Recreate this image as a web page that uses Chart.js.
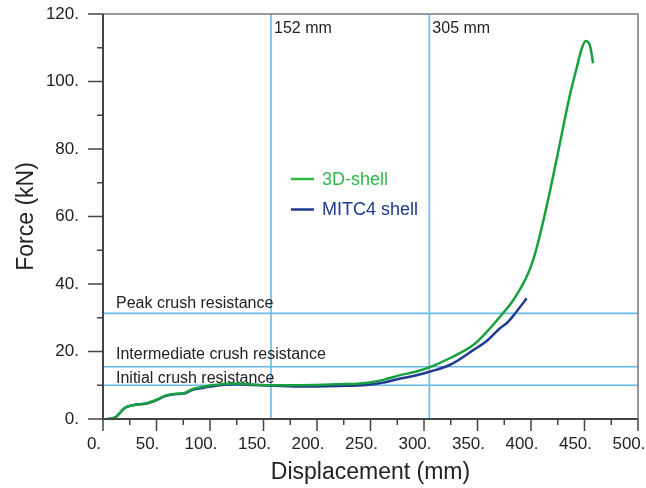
<!DOCTYPE html>
<html lang="en">
<head>
  <meta charset="UTF-8" />
  <title>Force vs Displacement</title>
  <script src="https://cdn.jsdelivr.net/npm/chart.js"></script>
  <style>
    body { margin: 0; background: #fff; }
    #wrap { width: 646px; height: 488px; }
  </style>
</head>
<body>
  <div id="wrap"><canvas id="crushChart" width="646" height="488"></canvas></div>

  <script>
    // 3D-shell curve (displacement mm, force kN)
    const shell3dX = [4, 11, 15, 20, 28, 41, 50, 59, 69, 77, 83, 91, 100, 122, 140, 160, 184, 220, 246, 262, 278, 292, 305, 324, 346, 358, 371, 384, 396, 402, 408, 418, 427, 436, 443, 447, 451, 455, 458];
    const shell3dY = [0, 0.4, 1.5, 3.2, 4.1, 4.7, 5.7, 7.0, 7.5, 7.8, 8.8, 9.4, 9.9, 10.5, 10.2, 10.0, 10.0, 10.3, 10.7, 11.6, 13.0, 14.0, 15.3, 18.0, 21.9, 25.6, 30.3, 35.5, 42.2, 47.1, 54.0, 67.9, 81.7, 95.5, 104.4, 109.3, 112.0, 110.8, 105.4];

    // MITC4 shell curve
    const mitc4X = [4, 11, 15, 20, 28, 41, 50, 59, 69, 77, 83, 91, 100, 122, 140, 153, 184, 220, 246, 262, 278, 292, 305, 324, 346, 360, 371, 378, 384, 396];
    const mitc4Y = [0, 0.4, 1.5, 3.2, 4.1, 4.6, 5.6, 6.9, 7.4, 7.6, 8.6, 9.1, 9.6, 10.3, 10.1, 9.9, 9.6, 9.8, 10.1, 10.8, 12.0, 12.9, 14.0, 16.0, 20.4, 23.5, 26.9, 28.6, 30.8, 35.8];

    // reference lines
    const markerX = [157, 305];
    const markerXLabels = ['152 mm', '305 mm'];
    const levelY = [31.3, 15.5, 10.0];
    const levelLabels = ['Peak crush resistance', 'Intermediate crush resistance', 'Initial crush resistance'];

    const toPoints = (xs, ys) => xs.map((x, i) => ({ x: x, y: ys[i] }));

    const refColor = '#6ab8ec';
    const axisColor = '#444';

    // reference lines under the curves
    const refLines = {
      id: 'refLines',
      beforeDatasetsDraw(chart) {
        const { ctx, chartArea: a, scales: { x, y } } = chart;
        ctx.save();
        ctx.strokeStyle = refColor;
        ctx.lineWidth = 1.6;
        ctx.font = '16px "Liberation Sans", Arial, sans-serif';
        ctx.fillStyle = '#222';
        ctx.textBaseline = 'middle';
        markerX.forEach((v, i) => {
          const px = x.getPixelForValue(v);
          ctx.beginPath();
          ctx.moveTo(px, a.top);
          ctx.lineTo(px, a.bottom);
          ctx.stroke();
          ctx.fillText(markerXLabels[i], px + 3, a.top + 15);
        });
        const offs = [-10, -12, -7];
        levelY.forEach((v, i) => {
          const py = y.getPixelForValue(v);
          ctx.beginPath();
          ctx.moveTo(a.left, py);
          ctx.lineTo(a.right, py);
          ctx.stroke();
          ctx.fillText(levelLabels[i], a.left + 13, py + offs[i]);
        });
        ctx.restore();
      }
    };

    // frame, axes, ticks and in-plot legend
    const frame = {
      id: 'frame',
      afterDraw(chart) {
        const { ctx, chartArea: a, scales: { x, y } } = chart;
        ctx.save();
        ctx.strokeStyle = '#777';
        ctx.lineWidth = 1.5;
        ctx.beginPath();
        ctx.moveTo(a.left, a.top);
        ctx.lineTo(a.right, a.top);
        ctx.lineTo(a.right, a.bottom);
        ctx.stroke();

        ctx.strokeStyle = axisColor;
        ctx.lineWidth = 2;
        ctx.beginPath();
        ctx.moveTo(a.left, a.top);
        ctx.lineTo(a.left, a.bottom);
        ctx.lineTo(a.right, a.bottom);
        ctx.stroke();

        ctx.lineWidth = 1.5;
        ctx.beginPath();
        y.ticks.forEach(t => {
          const py = y.getPixelForValue(t.value);
          const len = t.value % 20 === 0 ? 15 : 6;
          ctx.moveTo(a.left - len, py);
          ctx.lineTo(a.left, py);
        });
        x.ticks.forEach(t => {
          const px = x.getPixelForValue(t.value);
          const len = t.value % 50 === 0 ? 12 : 6;
          ctx.moveTo(px, a.bottom);
          ctx.lineTo(px, a.bottom + len);
        });
        ctx.stroke();

        // legend
        ctx.font = '18px "Liberation Sans", Arial, sans-serif';
        ctx.textBaseline = 'middle';
        chart.data.datasets.forEach((ds, i) => {
          const ly = 179 + i * 30.5;
          ctx.strokeStyle = ds.legendColor;
          ctx.lineWidth = 2.5;
          ctx.beginPath();
          ctx.moveTo(291, ly);
          ctx.lineTo(314, ly);
          ctx.stroke();
          ctx.fillStyle = ds.legendColor;
          ctx.fillText(ds.label, 322, ly + 1);
        });
        ctx.restore();
      }
    };

    const tickFont = { family: '"Liberation Sans", Arial, sans-serif', size: 17 };
    const titleFont = { family: '"Liberation Sans", Arial, sans-serif', size: 23 };

    const ctx = document.getElementById('crushChart').getContext('2d');
    new Chart(ctx, {
      type: 'scatter',
      data: {
        datasets: [
          {
            label: '3D-shell',
            data: toPoints(shell3dX, shell3dY),
            showLine: true,
            borderColor: '#17a03e',
            legendColor: '#2fb846',
            borderWidth: 2.5,
            pointRadius: 0,
            cubicInterpolationMode: 'monotone',
            fill: false
          },
          {
            label: 'MITC4 shell',
            data: toPoints(mitc4X, mitc4Y),
            showLine: true,
            borderColor: '#1f3a91',
            legendColor: '#1f3a91',
            borderWidth: 2.5,
            pointRadius: 0,
            cubicInterpolationMode: 'monotone',
            fill: false
          }
        ]
      },
      options: {
        responsive: false,
        animation: false,
        layout: { padding: { top: 14, right: 8, left: 0, bottom: 0 } },
        plugins: {
          legend: { display: false },
          tooltip: { enabled: false }
        },
        scales: {
          x: {
            type: 'linear',
            min: 0,
            max: 500,
            grid: { display: false },
            border: { display: false },
            afterFit(scale) {
              scale.height = 69;
              scale.paddingLeft = 0;
              scale.paddingRight = 0;
            },
            ticks: {
              stepSize: 25,
              autoSkip: false,
              maxRotation: 0,
              padding: 7,
              labelOffset: -9,
              color: '#222',
              font: tickFont,
              callback: v => (v % 50 === 0 ? v + '.' : '')
            },
            title: {
              display: true,
              text: 'Displacement (mm)',
              color: '#222',
              font: titleFont,
              padding: { top: 0, bottom: 2 }
            }
          },
          y: {
            min: 0,
            max: 120,
            grid: { display: false },
            border: { display: false },
            afterFit(scale) {
              scale.width = 103;
              scale.paddingTop = 0;
              scale.paddingBottom = 0;
            },
            ticks: {
              stepSize: 10,
              autoSkip: false,
              padding: 16,
              color: '#222',
              font: tickFont,
              callback: v => (v % 20 === 0 ? v + '.' : '')
            },
            title: {
              display: true,
              text: 'Force (kN)',
              color: '#222',
              font: titleFont,
              padding: { top: 13, bottom: 0 }
            }
          }
        }
      },
      plugins: [refLines, frame]
    });
  </script>
</body>
</html>
